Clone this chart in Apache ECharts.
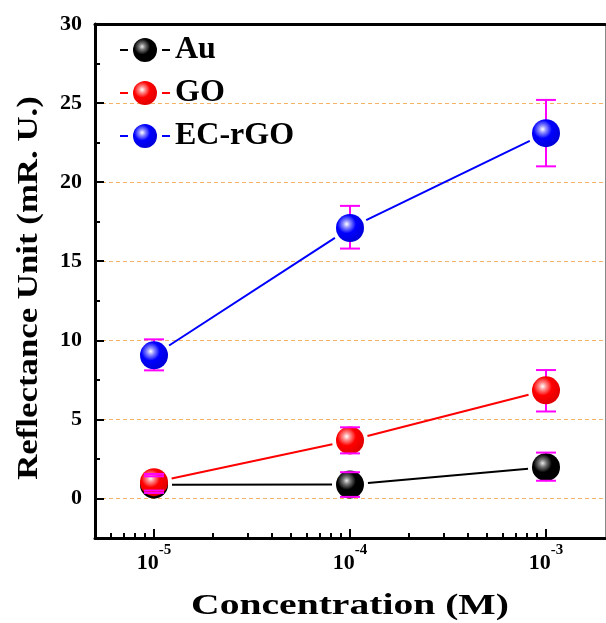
<!DOCTYPE html>
<html>
<head>
<meta charset="utf-8">
<script src="https://cdn.jsdelivr.net/npm/echarts@6.0.0/dist/echarts.min.js"></script>
<style>
  html, body { margin: 0; padding: 0; background: #fff; }
  #main { width: 606px; height: 623px; }
</style>
</head>
<body>
<div id="main"></div>
<script>
// concentrations (M)
var conc = [1e-5, 1e-4, 1e-3];
var decades = [1e-5, 1e-4, 1e-3];
var minorConc = [6e-6, 7e-6, 8e-6, 9e-6,
  2e-5, 3e-5, 4e-5, 5e-5, 6e-5, 7e-5, 8e-5, 9e-5,
  2e-4, 3e-4, 4e-4, 5e-4, 6e-4, 7e-4, 8e-4, 9e-4];
var yMajor = [0, 5, 10, 15, 20, 25, 30];
var yMinor = [2.5, 7.5, 12.5, 17.5, 22.5, 27.5];

var auVal = [0.87, 0.88, 1.98];
var auLow = [0.35, 0.1, 1.12];
var auHigh = [1.4, 1.66, 2.9];

var goVal = [1.03, 3.67, 6.84];
var goLow = [0.5, 2.85, 5.5];
var goHigh = [1.55, 4.5, 8.12];

var ecVal = [9.05, 17.1, 23.1];
var ecLow = [8.1, 15.8, 21.0];
var ecHigh = [10.06, 18.5, 25.2];

var FONT = '"Liberation Serif", "Times New Roman", serif';
var ERR = '#ff00ff';
var R = 14; // marker radius, used for the gap of the connecting lines

function ball(c, hi, mid, edge) {
  return {
    type: 'radial', x: 0.38, y: 0.36, r: 0.66,
    colorStops: [
      {offset: 0, color: hi},
      {offset: 0.2, color: mid},
      {offset: 0.5, color: c},
      {offset: 1, color: edge}
    ]
  };
}

function pts(v) {
  return conc.map(function (c, i) { return [c, v[i]]; });
}
function segs(v) {
  var out = [];
  for (var i = 0; i < conc.length - 1; i++) out.push([conc[i], v[i], conc[i + 1], v[i + 1]]);
  return out;
}
function errs(lo, hi) {
  return conc.map(function (c, i) { return [c, lo[i], hi[i]]; });
}

function segSeries(name, v, color) {
  return {
    name: name + '_seg', type: 'custom', z: 2, silent: true,
    encode: {x: [0, 2], y: [1, 3]},
    data: segs(v),
    renderItem: function (params, api) {
      var a = api.coord([api.value(0), api.value(1)]);
      var b = api.coord([api.value(2), api.value(3)]);
      var dx = b[0] - a[0], dy = b[1] - a[1];
      var len = Math.sqrt(dx * dx + dy * dy);
      var g = R + 4;
      if (len < 2 * g) return null;
      var ux = dx / len, uy = dy / len;
      return {
        type: 'line',
        shape: {x1: a[0] + ux * g, y1: a[1] + uy * g, x2: b[0] - ux * g, y2: b[1] - uy * g},
        style: {stroke: color, lineWidth: 2}
      };
    }
  };
}

function stemSeries(name, lo, hi) {
  return {
    name: name + '_stem', type: 'custom', z: 1, silent: true,
    encode: {x: 0, y: [1, 2]},
    data: errs(lo, hi),
    renderItem: function (params, api) {
      var a = api.coord([api.value(0), api.value(1)]);
      var b = api.coord([api.value(0), api.value(2)]);
      return {type: 'line', shape: {x1: a[0], y1: a[1], x2: b[0], y2: b[1]},
        style: {stroke: ERR, lineWidth: 2}};
    }
  };
}

function capSeries(name, lo, hi) {
  return {
    name: name + '_cap', type: 'custom', z: 4, silent: true,
    encode: {x: 0, y: [1, 2]},
    data: errs(lo, hi),
    renderItem: function (params, api) {
      var a = api.coord([api.value(0), api.value(1)]);
      var b = api.coord([api.value(0), api.value(2)]);
      var w = 10;
      return {type: 'group', children: [
        {type: 'line', shape: {x1: a[0] - w, y1: a[1], x2: a[0] + w, y2: a[1]}, style: {stroke: ERR, lineWidth: 2}},
        {type: 'line', shape: {x1: b[0] - w, y1: b[1], x2: b[0] + w, y2: b[1]}, style: {stroke: ERR, lineWidth: 2}}
      ]};
    }
  };
}

function markSeries(name, v, color, grad, z) {
  return {
    name: name, type: 'line', z: z,
    data: pts(v),
    symbol: 'circle', symbolSize: 2 * R,
    itemStyle: {color: grad},
    lineStyle: {color: color, width: 2, opacity: 0},
    emphasis: {disabled: true}
  };
}

var auBall = ball('#000000', '#e8e8e8', '#777777', '#000000');
var goBall = ball('#ff0000', '#ffffff', '#ff8c8c', '#e00000');
var ecBall = ball('#0000ff', '#ffffff', '#8c8cff', '#0000d8');

var chart = echarts.init(document.getElementById('main'));
var option = {
  animation: false,
  backgroundColor: '#fff',
  grid: {left: 95, right: 1, top: 24, bottom: 85},
  legend: {
    orient: 'vertical', left: 114, top: 29,
    itemWidth: 50, itemHeight: 30, itemGap: 11,
    data: ['Au', 'GO', 'EC-rGO'],
    lineStyle: {opacity: 1, type: [8, 34], width: 2},
    textStyle: {fontFamily: FONT, fontWeight: 'bold', fontSize: 32, color: '#000'},
    selectedMode: false
  },
  // axis titles: the reference font is drawn wide, so stretch along the text
  graphic: [{
    type: 'text', x: 350, y: 606, scaleX: 1.32, silent: true,
    style: {text: 'Concentration (M)', font: 'bold 30px ' + FONT, fill: '#000',
      align: 'center', verticalAlign: 'middle'}
  }, {
    type: 'text', x: 30, y: 288, rotation: Math.PI / 2, scaleX: 1.2, silent: true,
    style: {text: 'Reflectance Unit (mR. U.)', font: 'bold 29px ' + FONT, fill: '#000',
      align: 'center', verticalAlign: 'middle'}
  }],
  xAxis: [{
    type: 'log', logBase: 10, min: 5e-6, max: 2e-3,
    position: 'bottom',
    axisLine: {onZero: false, lineStyle: {color: '#000', width: 3}},
    axisTick: {inside: true, length: 9, lineStyle: {width: 2, color: '#000'}, customValues: decades},
    axisLabel: {
      customValues: decades, margin: 14,
      fontFamily: FONT, fontWeight: 'bold', fontSize: 22, color: '#000',
      formatter: function (v) {
        return '{base|10}{sup|' + Math.round(Math.log10(v)) + '}';
      },
      rich: {
        base: {fontFamily: FONT, fontWeight: 'bold', fontSize: 22, color: '#000', lineHeight: 22,
          verticalAlign: 'bottom'},
        sup: {fontFamily: FONT, fontWeight: 'bold', fontSize: 15, color: '#000', lineHeight: 15,
          verticalAlign: 'bottom', padding: [0, 0, 16, 0]}
      }
    },
    splitLine: {show: false}
  }, {
    type: 'log', logBase: 10, min: 5e-6, max: 2e-3,
    position: 'bottom',
    axisLine: {show: false, onZero: false},
    axisTick: {inside: true, length: 5, lineStyle: {width: 2, color: '#000'}, customValues: minorConc},
    axisLabel: {show: false},
    splitLine: {show: false}
  }, {
    type: 'log', logBase: 10, min: 5e-6, max: 2e-3,
    position: 'top',
    axisLine: {onZero: false, lineStyle: {color: '#000', width: 3}},
    axisTick: {show: false},
    axisLabel: {show: false},
    splitLine: {show: false}
  }],
  yAxis: [{
    type: 'value', min: -2.5, max: 30,
    position: 'left',
    axisLine: {onZero: false, lineStyle: {color: '#000', width: 3}},
    axisTick: {inside: true, length: 9, lineStyle: {width: 2, color: '#000'}, customValues: yMajor},
    axisLabel: {
      customValues: yMajor,
      margin: 13, fontFamily: FONT, fontWeight: 'bold', fontSize: 22, color: '#000'
    },
    splitLine: {show: true, lineStyle: {color: '#f5a64a', type: [4, 3], width: 1, opacity: 0.85}}
  }, {
    type: 'value', min: -2.5, max: 30,
    position: 'left',
    axisLine: {show: false, onZero: false},
    axisTick: {inside: true, length: 5, lineStyle: {width: 2, color: '#000'}, customValues: yMinor},
    axisLabel: {show: false},
    splitLine: {show: false}
  }, {
    type: 'value', min: -2.5, max: 30,
    position: 'right',
    axisLine: {onZero: false, lineStyle: {color: '#888', width: 1}},
    axisTick: {show: false},
    axisLabel: {show: false},
    splitLine: {show: false}
  }],
  series: [
    stemSeries('Au', auLow, auHigh),
    stemSeries('GO', goLow, goHigh),
    stemSeries('EC-rGO', ecLow, ecHigh),
    segSeries('Au', auVal, '#000000'),
    segSeries('GO', goVal, '#ff0000'),
    segSeries('EC-rGO', ecVal, '#0000ff'),
    markSeries('Au', auVal, '#000000', auBall, 3),
    markSeries('GO', goVal, '#ff0000', goBall, 3),
    markSeries('EC-rGO', ecVal, '#0000ff', ecBall, 3),
    capSeries('Au', auLow, auHigh),
    capSeries('GO', goLow, goHigh),
    capSeries('EC-rGO', ecLow, ecHigh)
  ]
};
chart.setOption(option);
</script>
</body>
</html>
